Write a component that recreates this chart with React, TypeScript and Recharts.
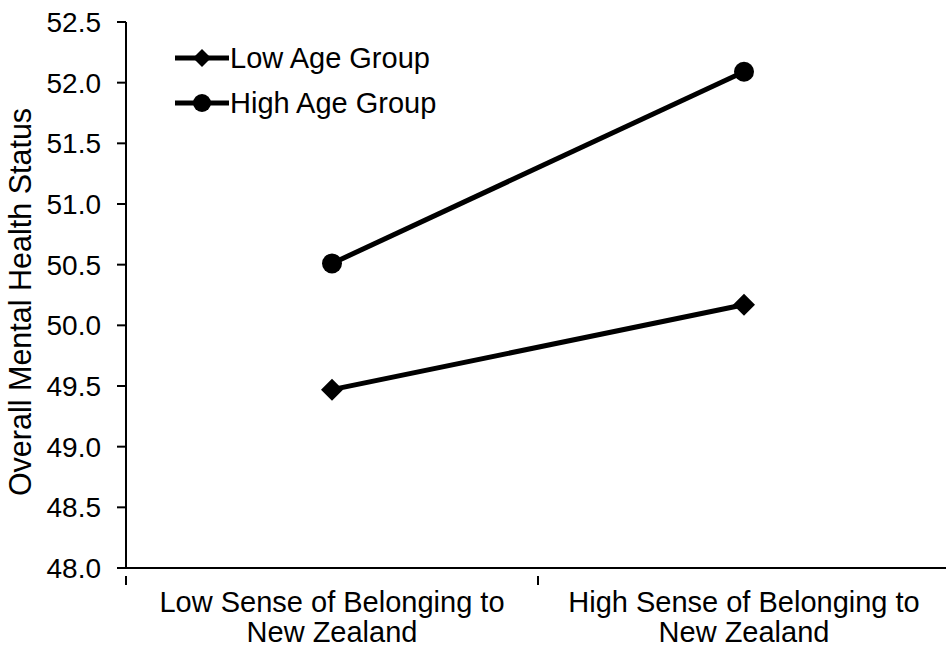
import React from "react"
import { LineChart, Line, XAxis, YAxis } from "recharts"

const categories = [
  ["Low Sense of Belonging to", "New Zealand"],
  ["High Sense of Belonging to", "New Zealand"],
]
const lowAgeGroup = [49.47, 50.17]
const highAgeGroup = [50.51, 52.09]
const yTicks = [48.0, 48.5, 49.0, 49.5, 50.0, 50.5, 51.0, 51.5, 52.0, 52.5]
const xTicks = [0, 0.5, 1, 1.5, 2]
const yTitle = "Overall Mental Health Status"

const FONT = "'Liberation Sans', Arial, sans-serif"

const data = categories.map((c, i) => ({
  pos: i + 0.5,
  low: lowAgeGroup[i],
  high: highAgeGroup[i],
}))

function Diamond({ cx, cy, size = 10 }: { cx: number; cy: number; size?: number }) {
  return <path d={`M${cx},${cy - size} L${cx + size},${cy} L${cx},${cy + size} L${cx - size},${cy} Z`} fill="#000" />
}

function XTick(props: any) {
  const { x, y, payload } = props
  const v = payload.value as number
  if (Number.isInteger(v)) {
    return <line x1={x} x2={x} y1={y} y2={y + 9} stroke="#000" strokeWidth={2} />
  }
  const lines = categories[Math.floor(v)]
  return (
    <text x={x} y={y} textAnchor="middle" fontFamily={FONT} fontSize={29} fill="#000">
      {lines.map((l, i) => (
        <tspan key={i} x={x} dy={i === 0 ? 36 : 30}>{l}</tspan>
      ))}
    </text>
  )
}

function LegendBox() {
  const items = [
    { label: "Low Age Group", mark: "diamond" },
    { label: "High Age Group", mark: "circle" },
  ]
  return (
    <svg width={340} height={120} style={{ position: "absolute", left: 165, top: 20, overflow: "visible" }}>
      {items.map((it, i) => {
        const cy = 38 + i * 45
        return (
          <g key={it.label}>
            <line x1={10} x2={64} y1={cy} y2={cy} stroke="#000" strokeWidth={5} />
            {it.mark === "diamond" ? <Diamond cx={37} cy={cy} size={9} /> : <circle cx={37} cy={cy} r={9} fill="#000" />}
            <text x={65} y={cy + 10} fontFamily={FONT} fontSize={29} fill="#000">{it.label}</text>
          </g>
        )
      })}
    </svg>
  )
}

export default function App() {
  return (
    <div style={{ position: "absolute", left: 0, top: 0, width: 946, height: 647, overflow: "hidden", background: "#fff" }}>
      <LineChart width={950} height={647} data={data} margin={{ top: 22, right: 0, bottom: 0, left: 0 }}>
        <XAxis
          dataKey="pos"
          type="number"
          domain={[0, 2]}
          ticks={xTicks}
          interval={0}
          height={79}
          tickLine={false}
          axisLine={{ stroke: "#000", strokeWidth: 2 }}
          tick={<XTick />}
        />
        <YAxis
          domain={[48, 52.5]}
          ticks={yTicks}
          interval={0}
          width={126}
          tickSize={9}
          tickMargin={16}
          tickFormatter={(v: number) => v.toFixed(1)}
          tick={{ fontFamily: FONT, fontSize: 28, fill: "#000" }}
          tickLine={{ stroke: "#000", strokeWidth: 2 }}
          axisLine={{ stroke: "#000", strokeWidth: 2 }}
          label={{
            content: () => (
              <text
                x={31}
                y={302}
                transform="rotate(-90 31 302)"
                textAnchor="middle"
                fontFamily={FONT}
                fontSize={30.5}
                fill="#000"
              >
                {yTitle}
              </text>
            ),
          }}
        />
        <Line
          dataKey="low"
          stroke="#000"
          strokeWidth={5}
          isAnimationActive={false}
          dot={(p: any) => <Diamond key={`l${p.index}`} cx={p.cx} cy={p.cy} size={11} />}
        />
        <Line
          dataKey="high"
          stroke="#000"
          strokeWidth={5}
          isAnimationActive={false}
          dot={(p: any) => <circle key={`h${p.index}`} cx={p.cx} cy={p.cy} r={10} fill="#000" />}
        />
      </LineChart>
      <LegendBox />
    </div>
  )
}
